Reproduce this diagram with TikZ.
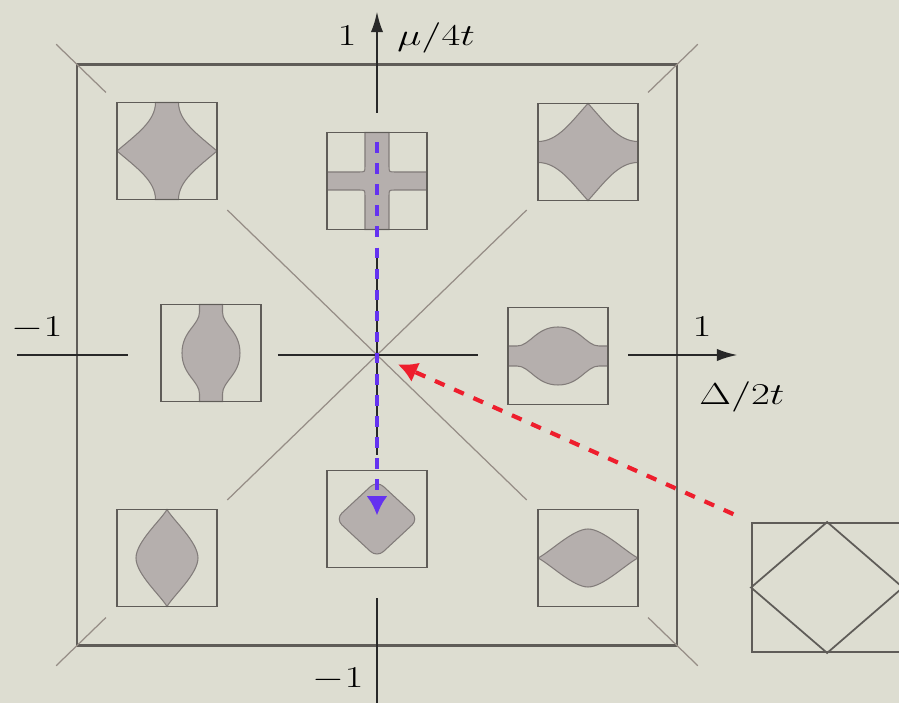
\documentclass[tikz,border=0pt]{standalone}
\usepackage{tikz}
\usetikzlibrary{positioning,arrows.meta,backgrounds,calc}

\definecolor{paper}{RGB}{221,221,209}
\definecolor{fsgray}{RGB}{181,175,173}
\definecolor{fsedge}{RGB}{130,124,122}
\definecolor{axisblk}{RGB}{40,40,40}
\definecolor{frame}{RGB}{95,92,88}
\definecolor{diag}{RGB}{150,141,134}
\definecolor{flowblue}{RGB}{100,50,240}
\definecolor{flowred}{RGB}{238,30,45}

\newcommand{\widelabel}[1]{\scalebox{1.35}[1]{#1}}

\begin{document}
\begin{tikzpicture}[
  x=2cm,y=2cm,
  font=\LARGE,
  cell/.style={draw=frame,line width=1.1pt,minimum width=2cm,minimum height=1.94cm,inner sep=0pt},
  fs/.style={fill=fsgray,draw=fsedge,line width=0.6pt},
  axis/.style={draw=axisblk,line width=1.6pt},
  axisarrow/.style={axis,-{Latex[length=12pt,width=7pt]}},
  diagline/.style={draw=diag,line width=0.7pt},
  flow/.style={line width=2.4pt,dash pattern=on 6pt off 6pt,-{Latex[length=11pt,width=12pt]}},
  lbl/.style={anchor=base,inner sep=0pt},
]
  \useasboundingbox (-3.77,-3.48) rectangle (5.22,3.55);
  \clip (-3.77,-3.48) rectangle (5.22,3.55);
  \begin{scope}[on background layer]
    \fill[paper] (-3.77,-3.48) rectangle (5.22,3.55);
  \end{scope}

  \coordinate (o) at (0,0);
  \node[draw=frame,line width=1.4pt,minimum width=12cm,minimum height=11.62cm] (bz) at (o) {};

  % diagonals, broken at the corner cells
  \foreach \c in {north west,north east,south west,south east}{
    \draw[diagline] ($(o)!1.065!(bz.\c)$) -- ($(o)!0.9!(bz.\c)$);
    \draw[diagline] ($(o)!0.497!(bz.\c)$) -- (o);
  }

  % axes
  \draw[axis] (-3.60,0) -- (-2.49,0);
  \draw[axis] (-0.99,0) -- (1.01,0);
  \draw[axisarrow] (2.51,0) -- (3.61,0);
  \draw[axis] (0,-1) -- (0,1);
  \draw[axisarrow] (0,2.42) -- (0,3.44);
  \draw[axis] (0,-2.43) -- (0,-3.6);

  % cells
  \node[cell] (tl) at (-2.10,2.04) {};
  \node[cell] (tm) at (0,1.74) {};
  \node[cell] (tr) at (2.11,2.03) {};
  \node[cell] (ml) at (-1.66,0.02) {};
  \node[cell] (mr) at (1.81,-0.01) {};
  \node[cell] (bl) at (-2.10,-2.03) {};
  \node[cell] (bm) at (0,-1.64) {};
  \node[cell] (br) at (2.11,-2.03) {};
  \node[cell,minimum width=3.2cm,minimum height=2.58cm] (ext) at (4.55,-2.325) {};
  \draw[draw=frame,line width=1pt] (ext.west) -- ($(ext.north west)!0.47!(ext.north east)$)
    -- ($(ext.west)!0.9375!(ext.east)$) -- ($(ext.south west)!0.47!(ext.south east)$) -- cycle;

  % Fermi surfaces
  \begin{scope}[on background layer]
    \begin{scope}[shift={(tl)}]
      \path[fs] (-0.5,0) .. controls (-0.3,0.17) and (-0.115,0.3) .. (-0.115,0.485)
        -- (0.115,0.485) .. controls (0.115,0.3) and (0.3,0.17) .. (0.5,0)
        .. controls (0.3,-0.17) and (0.115,-0.3) .. (0.115,-0.485)
        -- (-0.115,-0.485) .. controls (-0.115,-0.3) and (-0.3,-0.17) .. cycle;
    \end{scope}
    \begin{scope}[shift={(tr)}]
      \path[fs] (0,0.485) .. controls (0.17,0.3) and (0.3,0.105) .. (0.5,0.105)
        -- (0.5,-0.105) .. controls (0.3,-0.105) and (0.17,-0.3) .. (0,-0.485)
        .. controls (-0.17,-0.3) and (-0.3,-0.105) .. (-0.5,-0.105)
        -- (-0.5,0.105) .. controls (-0.3,0.105) and (-0.17,0.3) .. cycle;
    \end{scope}
    \begin{scope}[shift={(tm)}]
      \path[fs] (-0.12,0.485) -- (0.12,0.485) -- (0.12,0.15) .. controls (0.12,0.09) .. (0.18,0.09)
        -- (0.5,0.09) -- (0.5,-0.09) -- (0.18,-0.09) .. controls (0.12,-0.09) .. (0.12,-0.15)
        -- (0.12,-0.485) -- (-0.12,-0.485) -- (-0.12,-0.15) .. controls (-0.12,-0.09) .. (-0.18,-0.09)
        -- (-0.5,-0.09) -- (-0.5,0.09) -- (-0.18,0.09) .. controls (-0.12,0.09) .. (-0.12,0.15) -- cycle;
    \end{scope}
    \begin{scope}[shift={(ml)}]
      \path[fs] (-0.115,0.485) -- (0.115,0.485) -- (0.115,0.41)
        .. controls (0.115,0.28) and (0.29,0.22) .. (0.29,0)
        .. controls (0.29,-0.22) and (0.115,-0.28) .. (0.115,-0.41) -- (0.115,-0.485)
        -- (-0.115,-0.485) -- (-0.115,-0.41)
        .. controls (-0.115,-0.28) and (-0.29,-0.22) .. (-0.29,0)
        .. controls (-0.29,0.22) and (-0.115,0.28) .. (-0.115,0.41) -- cycle;
    \end{scope}
    \begin{scope}[shift={(mr)}]
      \path[fs] (-0.5,0.10) -- (-0.41,0.10) .. controls (-0.28,0.10) and (-0.22,0.29) .. (0,0.29)
        .. controls (0.22,0.29) and (0.28,0.10) .. (0.41,0.10) -- (0.5,0.10)
        -- (0.5,-0.10) -- (0.41,-0.10) .. controls (0.28,-0.10) and (0.22,-0.29) .. (0,-0.29)
        .. controls (-0.22,-0.29) and (-0.28,-0.10) .. (-0.41,-0.10) -- (-0.5,-0.10) -- cycle;
    \end{scope}
    \begin{scope}[shift={(bl)}]
      \path[fs] (0,0.485) .. controls (0.06,0.38) and (0.31,0.16) .. (0.31,0)
        .. controls (0.31,-0.16) and (0.06,-0.38) .. (0,-0.485)
        .. controls (-0.06,-0.38) and (-0.31,-0.16) .. (-0.31,0)
        .. controls (-0.31,0.16) and (-0.06,0.38) .. cycle;
    \end{scope}
    \begin{scope}[shift={(br)}]
      \path[fs] (-0.5,0) .. controls (-0.38,0.06) and (-0.15,0.29) .. (0,0.29)
        .. controls (0.15,0.29) and (0.38,0.06) .. (0.5,0)
        .. controls (0.38,-0.06) and (0.15,-0.29) .. (0,-0.29)
        .. controls (-0.15,-0.29) and (-0.38,-0.06) .. cycle;
    \end{scope}
    \begin{scope}[shift={(bm)}]
      \path[fs,rounded corners=5pt] (0,0.385) -- (0.415,0) -- (0,-0.385) -- (-0.415,0) -- cycle;
    \end{scope}
  \end{scope}

  % paths through the phase diagram
  \draw[flow,draw=flowblue,shorten <=6pt,shorten >=2pt] (tm.north) -- (bm.center);
  \draw[flow,draw=flowred,shorten <=11pt,shorten >=13pt] (ext.north west) -- (o);

  % axis labels
  \node[lbl] at (-0.30,3.09) {\widelabel{$1$}};
  \node[lbl,anchor=base west] at (0.20,3.09) {\widelabel{$\mu/4t$}};
  \node[lbl] at (-3.40,0.18) {\widelabel{$-1$}};
  \node[lbl] at (3.25,0.18) {\widelabel{$1$}};
  \node[lbl,anchor=base west] at (3.22,-0.50) {\widelabel{$\Delta/2t$}};
  \node[lbl] at (-0.39,-3.32) {\widelabel{$-1$}};
\end{tikzpicture}
\end{document}
